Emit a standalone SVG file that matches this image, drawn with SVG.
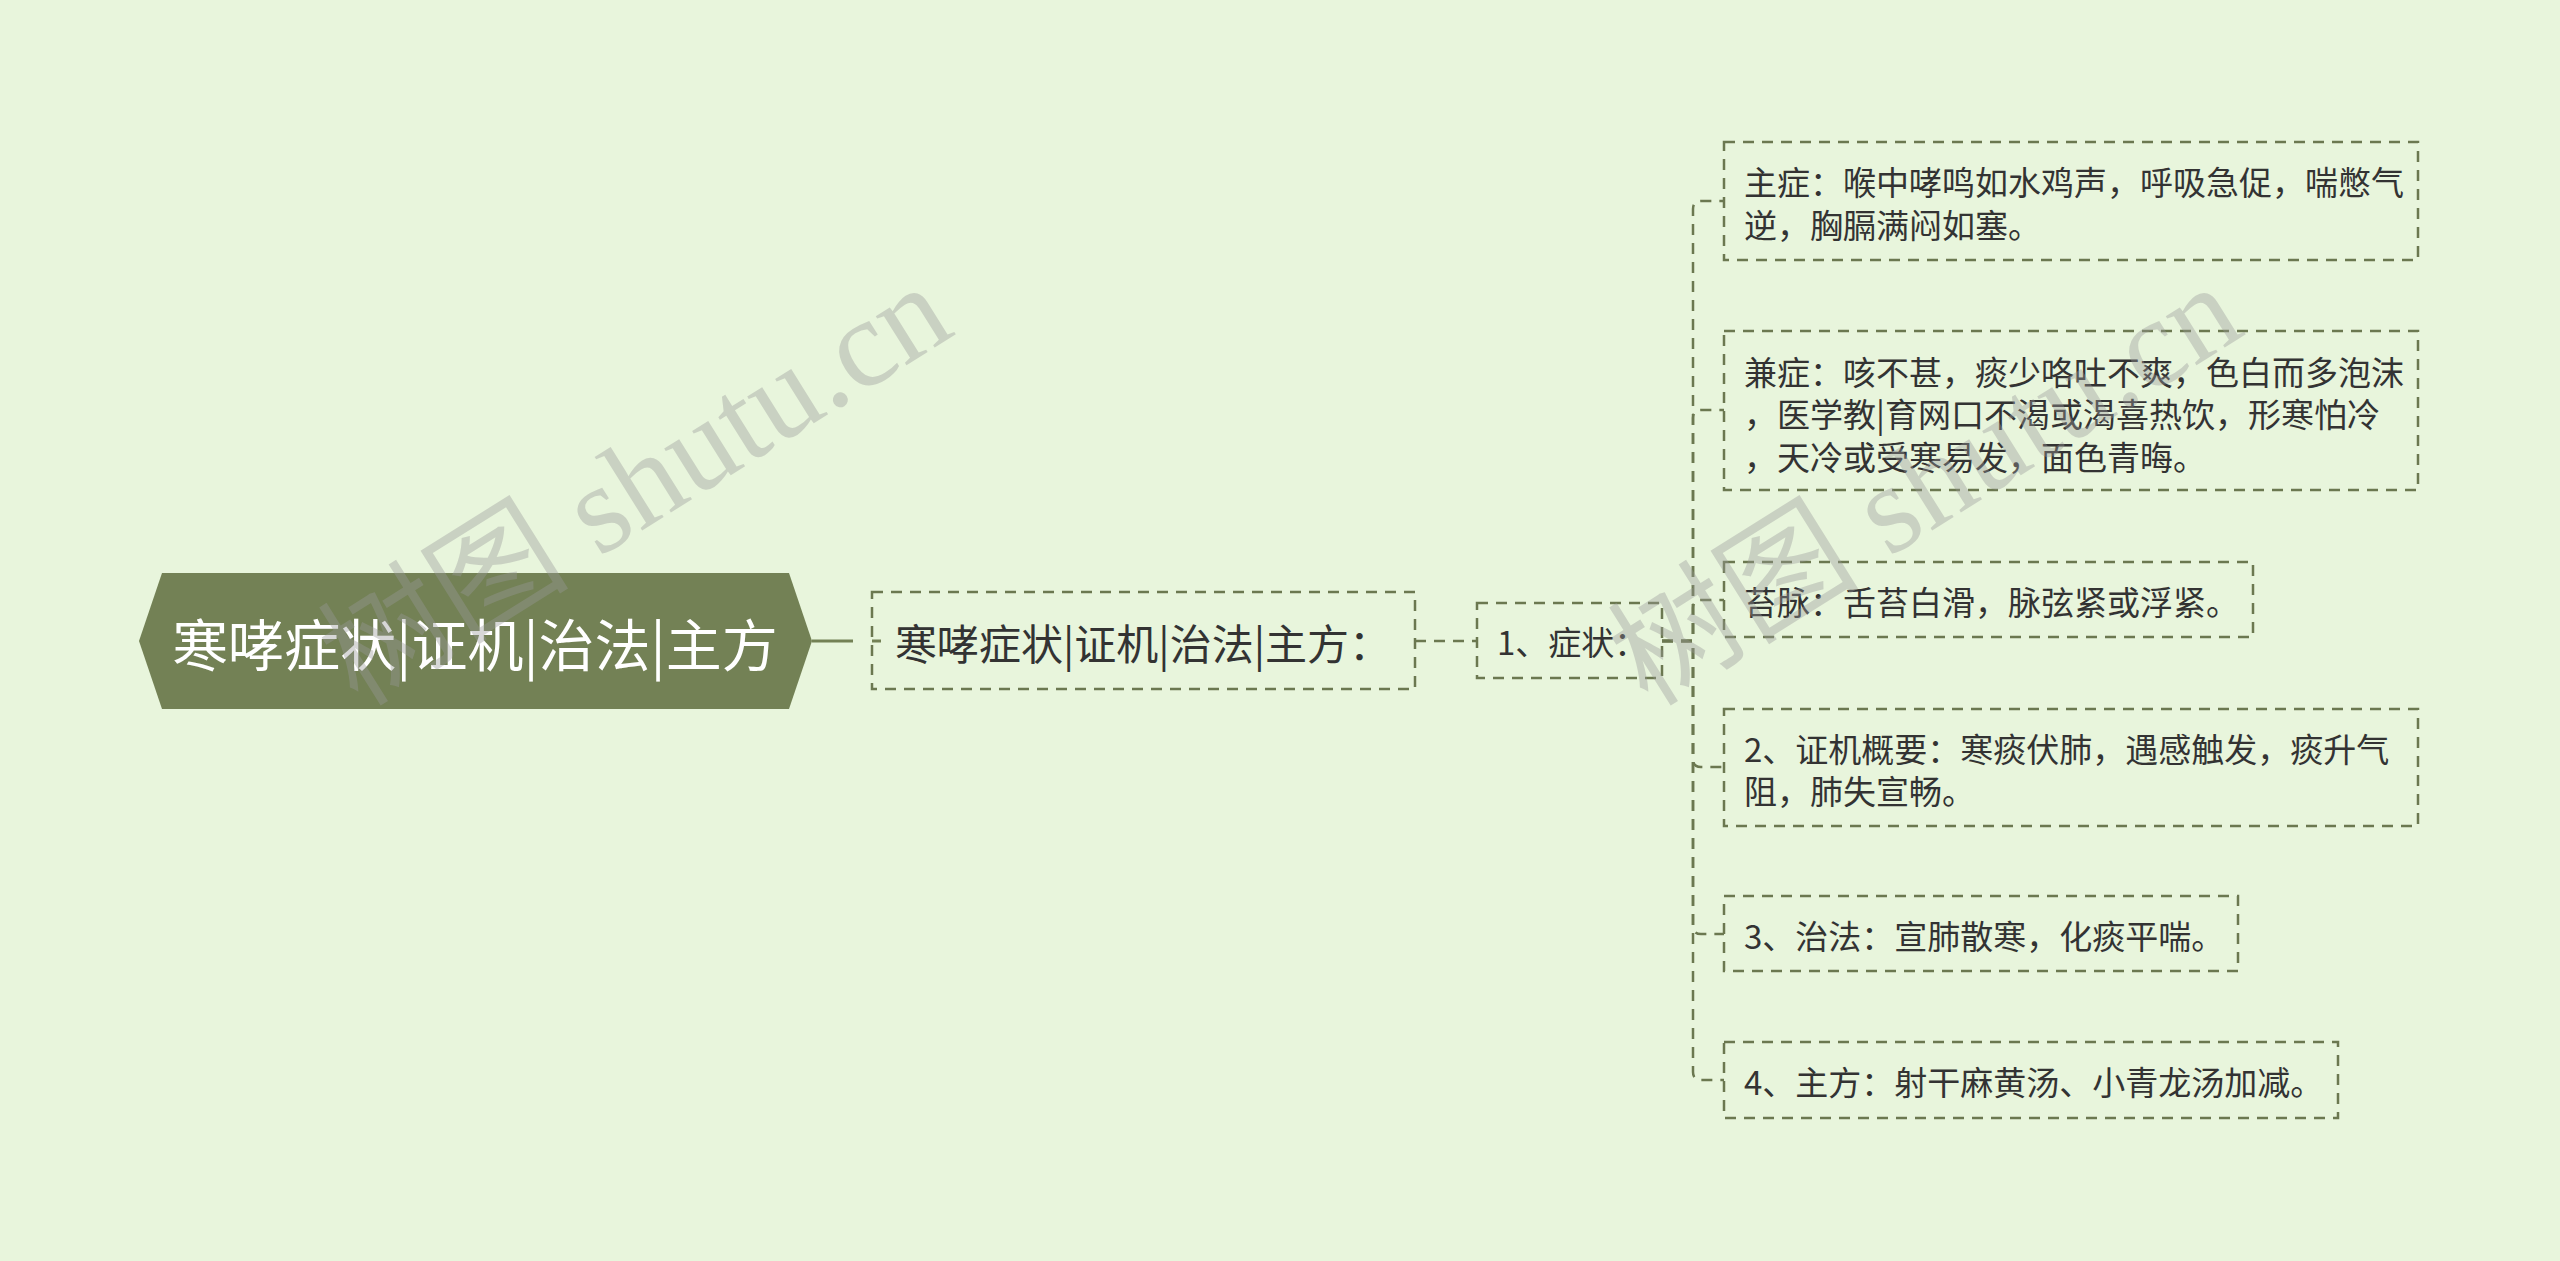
<svg xmlns="http://www.w3.org/2000/svg" width="2560" height="1261" viewBox="0 0 2560 1261">
<style>
.bg{fill:#e8f5dc}
.root{fill:#738155}
.rt{font-family:"Noto Sans CJK SC","Liberation Sans",sans-serif;font-size:56px;fill:#ffffff}
.box{fill:none;stroke:#6b7850;stroke-width:2.5;stroke-dasharray:11 8}
.t2{font-family:"Noto Sans CJK SC","Liberation Sans",sans-serif;font-size:42px;fill:#333333}
.t{font-family:"Noto Sans CJK SC","Liberation Sans",sans-serif;font-size:33px;fill:#333333}
.ln{fill:none;stroke:#6b7850;stroke-width:2.5;stroke-dasharray:11 8}
.wm{font-family:"Liberation Serif","Noto Sans CJK SC",serif;font-size:126px;fill:#999999;opacity:0.38}
</style>
<rect class="bg" x="0" y="0" width="2560" height="1261"/>
<g id="connectors">
<path d="M812,641 H881" fill="none" stroke="#738155" stroke-width="3" stroke-dasharray="41 19 9 100"/>
<path class="ln" d="M1415,641 H1477"/>
<path class="ln" d="M1662,641 H1693 V209 Q1693,201 1701,201 H1724"/>
<path class="ln" d="M1662,641 H1693 V418 Q1693,410 1701,410 H1724"/>
<path class="ln" d="M1662,641 H1693 V608 Q1693,600 1701,600 H1724"/>
<path class="ln" d="M1662,641 H1693 V759 Q1693,767 1701,767 H1724"/>
<path class="ln" d="M1662,641 H1693 V926 Q1693,934 1701,934 H1724"/>
<path class="ln" d="M1662,641 H1693 V1072 Q1693,1080 1701,1080 H1724"/>
</g>
<g id="root">
<polygon class="root" points="139,641 162,573 789,573 812,641 789,709 162,709"/>
<text class="rt" x="475" y="641" text-anchor="middle" dominant-baseline="central">寒哮症状|证机|治法|主方</text>
</g>
<g id="node-main">
<rect class="box" x="872" y="592" width="543" height="97"/>
<text class="t2" x="1143" y="641" text-anchor="middle" dominant-baseline="central">寒哮症状|证机|治法|主方：</text>
</g>
<g id="node-symptom">
<rect class="box" x="1477" y="603" width="185" height="75"/>
<text class="t" x="1497" y="641" dominant-baseline="central">1、症状：</text>
</g>
<g id="leaf-1">
<rect class="box" x="1724" y="142" width="694" height="118"/>
<text class="t" x="1744" y="181" dominant-baseline="central">主症：喉中哮鸣如水鸡声，呼吸急促，喘憋气</text>
<text class="t" x="1744" y="224" dominant-baseline="central">逆，胸膈满闷如塞。</text>
</g>
<g id="leaf-2">
<rect class="box" x="1724" y="331" width="694" height="159"/>
<text class="t" x="1744" y="371" dominant-baseline="central">兼症：咳不甚，痰少咯吐不爽，色白而多泡沫</text>
<text class="t" x="1744" y="413" dominant-baseline="central">，医学教|育网口不渴或渴喜热饮，形寒怕冷</text>
<text class="t" x="1744" y="456" dominant-baseline="central">，天冷或受寒易发，面色青晦。</text>
</g>
<g id="leaf-3">
<rect class="box" x="1724" y="562" width="529" height="75"/>
<text class="t" x="1744" y="601" dominant-baseline="central">苔脉：舌苔白滑，脉弦紧或浮紧。</text>
</g>
<g id="leaf-4">
<rect class="box" x="1724" y="709" width="694" height="117"/>
<text class="t" x="1744" y="748" dominant-baseline="central">2、证机概要：寒痰伏肺，遇感触发，痰升气</text>
<text class="t" x="1744" y="790" dominant-baseline="central">阻，肺失宣畅。</text>
</g>
<g id="leaf-5">
<rect class="box" x="1724" y="896" width="514" height="75"/>
<text class="t" x="1744" y="935" dominant-baseline="central">3、治法：宣肺散寒，化痰平喘。</text>
</g>
<g id="leaf-6">
<rect class="box" x="1724" y="1042" width="614" height="76"/>
<text class="t" x="1744" y="1081" dominant-baseline="central">4、主方：射干麻黄汤、小青龙汤加减。</text>
</g>
<g id="watermark">
<text class="wm" x="0" y="0" transform="translate(358,708) rotate(-32)">树图 shutu.cn</text>
<text class="wm" x="0" y="0" transform="translate(1648,708) rotate(-32)">树图 shutu.cn</text>
</g>
</svg>
